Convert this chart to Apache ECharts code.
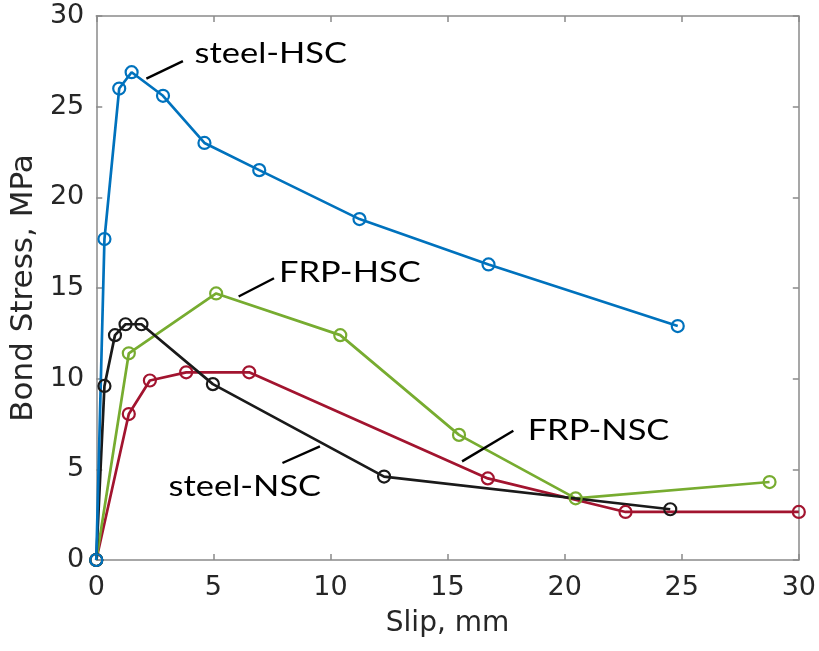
<!DOCTYPE html>
<html>
<head>
<meta charset="utf-8">
<script src="https://cdn.jsdelivr.net/npm/echarts@6/dist/echarts.min.js"></script>
<style>
  html, body { margin: 0; padding: 0; background: #fff; }
  #chart { width: 819px; height: 651px; }
</style>
</head>
<body>
<div id="chart"></div>
<script>
// Bond stress (MPa) versus slip (mm) for four bar / concrete combinations
const steelHSC_slip   = [0, 0.35, 0.98, 1.51, 2.85, 4.62, 6.96, 11.24, 16.75, 24.83];
const steelHSC_stress = [0, 17.7, 26.0, 26.9, 25.6, 23.0, 21.5, 18.8, 16.3, 12.9];

const steelNSC_slip   = [0, 0.35, 0.80, 1.25, 1.93, 4.98, 12.29, 24.51];
const steelNSC_stress = [0, 9.6, 12.4, 13.0, 13.0, 9.7, 4.6, 2.8];

const frpHSC_slip     = [0, 1.39, 5.12, 10.42, 15.49, 20.47, 28.75];
const frpHSC_stress   = [0, 11.4, 14.7, 12.4, 6.9, 3.4, 4.3];

const frpNSC_slip     = [0, 1.39, 2.29, 3.84, 6.53, 16.72, 22.6, 30.0];
const frpNSC_stress   = [0, 8.05, 9.9, 10.35, 10.35, 4.5, 2.65, 2.65];

const xTicks = [0, 5, 10, 15, 20, 25, 30];
const yTicks = [0, 5, 10, 15, 20, 25, 30];

// Curve labels: text anchor and leader segment, in slip / stress units
const labelNames  = ['steel-HSC', 'FRP-HSC', 'steel-NSC', 'FRP-NSC'];
const labelAnchor = [[4.20, 27.9], [7.80, 15.85], [3.09, 4.0], [18.42, 7.1]];
const leaderFrom  = [[3.70, 27.51], [7.59, 15.54], [7.95, 5.35], [17.81, 7.13]];
const leaderTo    = [[2.14, 26.55], [6.08, 14.53], [9.55, 6.27], [15.62, 5.44]];

const zip = (xs, ys) => xs.map((x, i) => [x, ys[i]]);

const chart = echarts.init(document.getElementById('chart'), null, { renderer: 'canvas' });

const axisColor = '#8a8a8a';
const labelColor = '#262626';
const sansFont = '"DejaVu Sans", "Liberation Sans", Arial, sans-serif';
const tickFont = { fontFamily: sansFont, fontSize: 27, color: labelColor };

// Open circle markers, so the joining lines show through them
function curve(name, color, data) {
  return {
    name, type: 'line', data,
    xAxisIndex: 0, yAxisIndex: 0,
    symbol: 'circle', symbolSize: 12,
    lineStyle: { color, width: 2.7 },
    itemStyle: { color: 'rgba(255,255,255,0)', borderColor: color, borderWidth: 2.2 },
    emphasis: { disabled: true },
    animation: false, z: 3
  };
}

const boxAxis = {
  axisLine: { show: true, onZero: false, lineStyle: { color: axisColor, width: 1.5 } },
  axisTick: { show: true, inside: true, length: 6, lineStyle: { color: axisColor, width: 1.5 } },
  splitLine: { show: false }
};

const option = {
  animation: false,
  grid: { left: 95, right: 17, top: 16, bottom: 91, containLabel: false },
  xAxis: [
    Object.assign({
      type: 'value', min: 0, max: 30, interval: 5,
      name: 'Slip, mm', nameLocation: 'middle', nameGap: 50,
      nameTextStyle: { fontFamily: sansFont, fontSize: 28, color: labelColor },
      axisLabel: Object.assign({ margin: 14, formatter: v => xTicks.includes(v) ? String(v) : '' }, tickFont)
    }, boxAxis),
    Object.assign({
      type: 'value', min: 0, max: 30, interval: 5, position: 'top',
      axisLabel: { show: false }
    }, boxAxis)
  ],
  yAxis: [
    Object.assign({
      type: 'value', min: 0, max: 30, interval: 5,
      name: 'Bond Stress, MPa', nameLocation: 'middle', nameGap: 52, nameRotate: 90,
      nameTextStyle: { fontFamily: sansFont, fontSize: 31, color: labelColor },
      axisLabel: Object.assign({ margin: 12, formatter: v => yTicks.includes(v) ? String(v) : '' }, tickFont)
    }, boxAxis),
    Object.assign({
      type: 'value', min: 0, max: 30, interval: 5, position: 'right',
      axisLabel: { show: false }
    }, boxAxis)
  ],
  series: [
    curve('FRP-NSC', '#A2142F', zip(frpNSC_slip, frpNSC_stress)),
    curve('FRP-HSC', '#77AC30', zip(frpHSC_slip, frpHSC_stress)),
    curve('steel-NSC', '#1a1a1a', zip(steelNSC_slip, steelNSC_stress)),
    curve('steel-HSC', '#0072BD', zip(steelHSC_slip, steelHSC_stress))
  ]
};

chart.setOption(option);

// Place curve labels and their leader lines through the axis scales
const px = p => chart.convertToPixel({ xAxisIndex: 0, yAxisIndex: 0 }, p);
const graphics = [];
labelNames.forEach((t, i) => {
  const a = px(leaderFrom[i]);
  const b = px(leaderTo[i]);
  const c = px(labelAnchor[i]);
  graphics.push({
    type: 'line', silent: true, z: 10,
    shape: { x1: a[0], y1: a[1], x2: b[0], y2: b[1] },
    style: { stroke: '#000', lineWidth: 2.4 }
  });
  graphics.push({
    type: 'text', silent: true, z: 10,
    x: c[0], y: c[1], scaleX: 1.23,
    style: {
      text: t, fill: '#000',
      font: '28px Lato, "Open Sans", sans-serif',
      textAlign: 'left', textVerticalAlign: 'middle'
    }
  });
});
chart.setOption({ graphic: graphics });
</script>
</body>
</html>
